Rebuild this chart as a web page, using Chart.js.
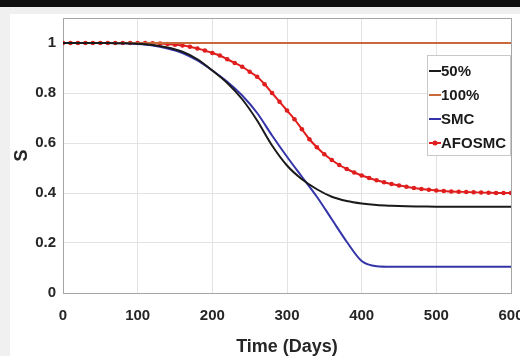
<!DOCTYPE html>
<html>
<head>
<meta charset="utf-8">
<script src="https://cdn.jsdelivr.net/npm/chart.js@4/dist/chart.umd.min.js"></script>
<style>
  html, body { margin: 0; padding: 0; width: 520px; height: 356px; overflow: hidden; background: #f0f0f0; }
  #topbar { position: absolute; left: 0; top: 0; width: 520px; height: 7px; background: #111; }
  #fig { position: absolute; left: 10px; top: 14px; background: #fff; }
</style>
</head>
<body>
<div id="topbar"></div>
<canvas id="fig" width="530" height="342"></canvas>
<script>
// time axis (days) for the plain lines
const lineDays = [0, 20, 40, 60, 80, 100, 120, 140, 160, 180, 200, 220, 240, 260, 280, 300,
                  320, 340, 360, 380, 400, 420, 440, 460, 480, 500, 520, 540, 560, 580, 600];
const half = [1, 1, 1, 1, 0.999, 0.997, 0.992, 0.982, 0.965, 0.935, 0.89, 0.84, 0.775, 0.69, 0.59, 0.51,
              0.455, 0.415, 0.385, 0.368, 0.358, 0.352, 0.349, 0.347, 0.346, 0.345, 0.345, 0.345, 0.345, 0.345, 0.345];
const full = [1, 1, 1, 1, 1, 1, 1, 1, 1, 1, 1, 1, 1, 1, 1, 1,
              1, 1, 1, 1, 1, 1, 1, 1, 1, 1, 1, 1, 1, 1, 1];
const smc = [1, 1, 1, 1, 0.999, 0.996, 0.99, 0.978, 0.96, 0.93, 0.89, 0.845, 0.79, 0.72, 0.63, 0.545,
             0.465, 0.385, 0.295, 0.205, 0.128, 0.107, 0.105, 0.105, 0.105, 0.105, 0.105, 0.105, 0.105, 0.105, 0.105];

// AFOSMC sampled every 10 days (one marker per sample)
const afoDays = [0, 10, 20, 30, 40, 50, 60, 70, 80, 90, 100, 110, 120, 130, 140, 150, 160, 170, 180, 190,
                 200, 210, 220, 230, 240, 250, 260, 270, 280, 290, 300, 310, 320, 330, 340, 350, 360, 370, 380, 390,
                 400, 410, 420, 430, 440, 450, 460, 470, 480, 490, 500, 510, 520, 530, 540, 550, 560, 570, 580, 590, 600];
const afosmc = [1, 1, 1, 1, 1, 1, 1, 1, 1, 1, 1, 1, 0.999, 0.998, 0.996, 0.993, 0.99, 0.985, 0.978, 0.97,
                0.96, 0.95, 0.935, 0.92, 0.905, 0.885, 0.865, 0.835, 0.8, 0.765, 0.73, 0.695, 0.655, 0.615, 0.583, 0.555, 0.532, 0.512, 0.496, 0.482,
                0.47, 0.46, 0.451, 0.443, 0.436, 0.43, 0.425, 0.42, 0.416, 0.413, 0.41, 0.408, 0.406, 0.405, 0.404, 0.403, 0.402, 0.401, 0.4, 0.4, 0.4];

const xTicks = [0, 100, 200, 300, 400, 500, 600];
const yTicks = [0, 0.2, 0.4, 0.6, 0.8, 1];

const FONT = "'Liberation Sans', Arial, sans-serif";
const pts = (xs, ys) => xs.map((x, i) => ({ x: x, y: ys[i] }));

// plot box (all four sides) like the matlab axes
const boxPlugin = {
  id: 'axesBox',
  beforeDatasetsDraw(chart) {
    const { ctx, chartArea: a } = chart;
    ctx.save();
    ctx.strokeStyle = '#a6a6a6';
    ctx.lineWidth = 1;
    ctx.strokeRect(a.left + 0.5, a.top + 0.5, a.right - a.left, a.bottom - a.top);
    ctx.restore();
  }
};

// legend drawn inside the axes, top right
const legendPlugin = {
  id: 'insideLegend',
  afterDatasetsDraw(chart) {
    const { ctx, chartArea: a } = chart;
    const x0 = a.right - 84, y0 = a.top + 37, w = 83, h = 100;
    ctx.save();
    ctx.fillStyle = '#fff';
    ctx.fillRect(x0, y0, w, h);
    ctx.strokeStyle = '#c8c8c8';
    ctx.lineWidth = 1;
    ctx.strokeRect(x0 + 0.5, y0 + 0.5, w, h);
    ctx.font = 'bold 15px ' + FONT;
    ctx.textBaseline = 'middle';
    ctx.textAlign = 'left';
    chart.data.datasets.forEach((ds, i) => {
      const y = y0 + 16 + i * 24;
      ctx.strokeStyle = ds.borderColor;
      ctx.lineWidth = 2;
      ctx.beginPath();
      ctx.moveTo(x0 + 2, y);
      ctx.lineTo(x0 + 14, y);
      ctx.stroke();
      if (ds.pointRadius > 0) {
        ctx.fillStyle = ds.borderColor;
        ctx.beginPath();
        ctx.arc(x0 + 8, y, 2.5, 0, Math.PI * 2);
        ctx.fill();
      }
      ctx.fillStyle = '#1a1a1a';
      ctx.fillText(ds.label, x0 + 14, y + 1);
    });
    ctx.restore();
  }
};

const tickFont = { family: FONT, size: 15, weight: 'bold' };

new Chart(document.getElementById('fig').getContext('2d'), {
  type: 'line',
  data: {
    datasets: [
      { label: '50%', data: pts(lineDays, half), borderColor: '#1a1a1a', borderWidth: 2, pointRadius: 0, cubicInterpolationMode: 'monotone' },
      { label: '100%', data: pts(lineDays, full), borderColor: '#c8693a', borderWidth: 2, pointRadius: 0 },
      { label: 'SMC', data: pts(lineDays, smc), borderColor: '#3434a8', borderWidth: 2, pointRadius: 0, cubicInterpolationMode: 'monotone' },
      { label: 'AFOSMC', data: pts(afoDays, afosmc), borderColor: '#e01e1e', backgroundColor: '#e01e1e', borderWidth: 2,
        pointRadius: 2.3, pointBorderWidth: 0, pointStyle: 'circle', cubicInterpolationMode: 'monotone' }
    ]
  },
  options: {
    responsive: false,
    animation: false,
    events: [],
    layout: { padding: { left: 0, right: 29, top: 4, bottom: 0 } },
    plugins: { legend: { display: false }, tooltip: { enabled: false } },
    scales: {
      x: {
        type: 'linear', min: 0, max: 600,
        afterBuildTicks: s => { s.ticks = xTicks.map(v => ({ value: v })); },
        afterFit: s => { s.height = 63; s.paddingLeft = 0; s.paddingRight = 0; },
        ticks: { color: '#262626', font: tickFont, padding: 14, maxRotation: 0 },
        grid: { color: '#e3e3e3', drawTicks: false },
        border: { display: false },
        title: { display: true, text: 'Time (Days)', color: '#262626', font: { family: FONT, size: 18, weight: 'bold' }, padding: { top: 0, bottom: -2 } }
      },
      y: {
        min: 0, max: 1.1,
        afterBuildTicks: s => { s.ticks = yTicks.map(v => ({ value: v })); },
        afterFit: s => { s.width = 53; s.paddingTop = 0; s.paddingBottom = 0; },
        ticks: { color: '#262626', font: tickFont, padding: 7, callback: v => String(+v.toFixed(1)) },
        grid: { color: '#e3e3e3', drawTicks: false },
        border: { display: false },
        title: { display: true, text: 'S', color: '#262626', font: { family: FONT, size: 18, weight: 'bold' }, padding: { top: 1, bottom: 0 } }
      }
    }
  },
  plugins: [boxPlugin, legendPlugin]
});
</script>
</body>
</html>
